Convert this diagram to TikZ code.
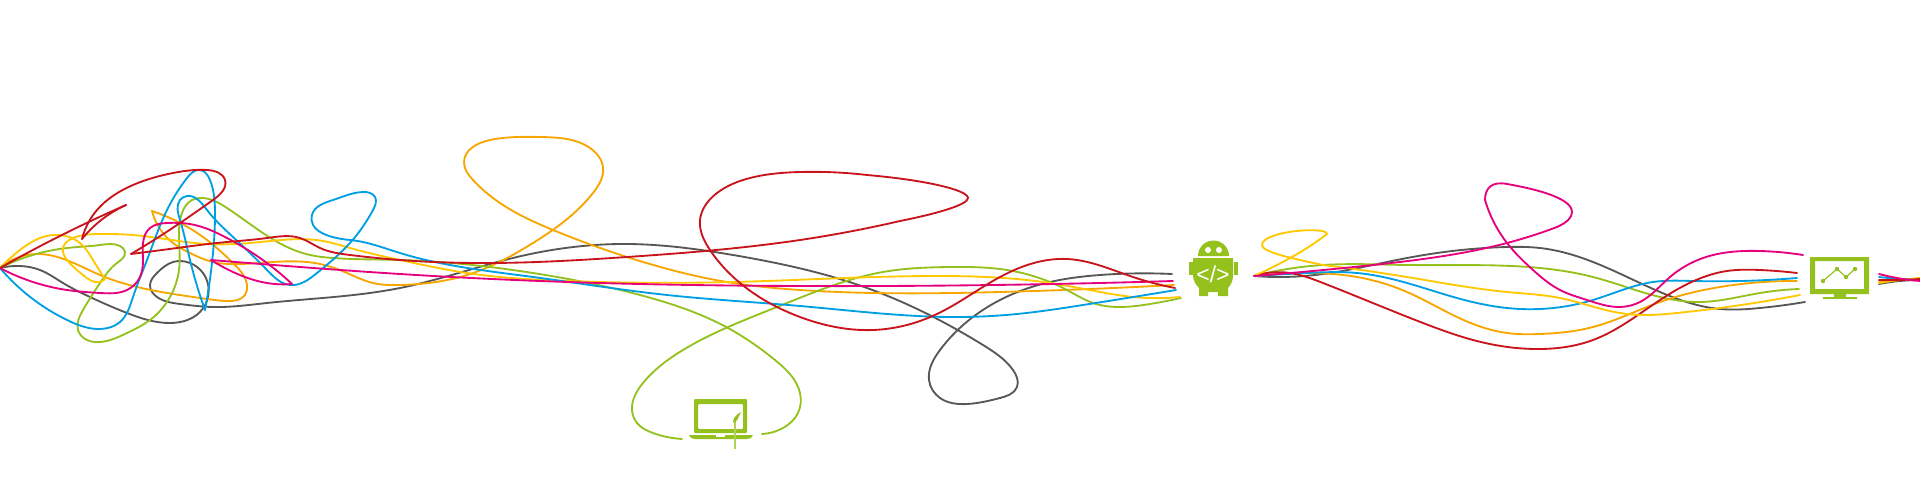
\documentclass[tikz,border=0pt]{standalone}
\usepackage{fontspec}
\usetikzlibrary{hobby}
\setsansfont{Liberation Sans}
\definecolor{wirered}{HTML}{C9141C}
\definecolor{wireyellow}{HTML}{FFC800}
\definecolor{wiregreen}{HTML}{95C11F}
\definecolor{wireorange}{HTML}{F7A600}
\definecolor{wiregray}{HTML}{575756}
\definecolor{wiremagenta}{HTML}{E6007E}
\definecolor{wireblue}{HTML}{009FE3}
\tikzset{
  wireline/.style={line width=1.85pt,line cap=round},
  wire/.style={wireline,use Hobby shortcut},
  icon/.style={fill=wiregreen,draw=none},
  hole/.style={fill=white,draw=none}
}
\begin{document}
\begin{tikzpicture}[x=1pt,y=-1pt]
  \useasboundingbox (0,0) rectangle (1920,495);
  \coordinate (start) at (0,268);
  \coordinate (devin) at (1254,276);
  % first stretch, from the left edge to the android
  \draw[wire,wiregray] (start) .. (20,266) .. (40,270) .. (63,283) .. (90,297) .. (127,313) .. (170,323) .. (200,312) .. (208,297) .. (203,273) .. (190,263) .. (173,262) .. (157,273) .. (150,285) .. (157,297) .. (180,304) .. (213,307) .. (267,303) .. (400,288) .. (517,257) .. (627,244) .. (733,255) .. (867,288) .. (983,345) .. (1013,370) .. (1017,387) .. (1000,398) .. (967,404) .. (940,398) .. (929,380) .. (940,350) .. (1000,300) .. (1050,282) .. (1100,275) .. (1172,274);
  \draw[wire,wireorange] (start) .. (37,254) .. (100,275) .. (200,298) .. (227,301) .. (245,295) .. (247,285) .. (233,263) .. (207,240) .. (152,211);
  \draw[wire,wireorange] (152,211) .. (173,243) .. (190,253) .. (213,262) .. (240,264) .. (320,264) .. (347,273) .. (373,283) .. (400,285) .. (467,275) .. (533,243) .. (593,193) .. (603,167) .. (590,148) .. (540,137) .. (490,140) .. (464,162) .. (473,180) .. (500,203) .. (553,230) .. (627,257) .. (733,283) .. (800,290) .. (1000,292) .. (1174,285);
  \draw[wire,wiregreen] (start) .. (67,248) .. (100,245) .. (120,246) .. (125,252) .. (117,263) .. (100,283) .. (83,310) .. (78,330) .. (87,340) .. (100,342) .. (127,333) .. (150,320) .. (170,297) .. (179,270) .. (179,237) .. (182,213) .. (192,200) .. (203,198) .. (227,208) .. (283,245) .. (310,255) .. (333,258) .. (400,260) .. (533,273) .. (640,295) .. (728,328) .. (775,360) .. (800,393) .. (798,413) .. (783,428) .. (762,434);
  \draw[wire,wiregreen] (682,439) .. (653,433) .. (637,423) .. (632,410) .. (643,383) .. (683,350) .. (777,307) .. (883,272) .. (950,267) .. (1007,270) .. (1067,290) .. (1093,303) .. (1120,307) .. (1150,304) .. (1181,298);
  \draw[wire,wireyellow] (start) .. (20,250) .. (40,238) .. (60,235) .. (80,243) .. (93,260) .. (105,279);
  \draw[wire,wireyellow] (105,279) .. (100,282) .. (83,275) .. (67,260) .. (63,248) .. (73,238) .. (100,234) .. (133,235) .. (207,244) .. (250,243) .. (323,241) .. (350,248) .. (400,260) .. (467,273) .. (567,281) .. (733,282) .. (933,276) .. (1050,283) .. (1100,292) .. (1133,297) .. (1180,297);
  \draw[wire,wireblue] (start) .. (67,320) .. (100,329) .. (120,322) .. (133,297) .. (147,260) .. (167,210) .. (187,178) .. (200,170) .. (210,180) .. (215,213) .. (213,253) .. (205,310);
  \draw[wire,wireblue] (205,310) .. (190,260) .. (180,220) .. (180,200) .. (187,196) .. (207,210) .. (233,237) .. (267,270) .. (290,285) .. (317,273) .. (350,243) .. (373,210) .. (375,197) .. (363,192) .. (333,200) .. (312,215) .. (350,240) .. (400,253) .. (533,277) .. (667,295) .. (800,306) .. (950,317) .. (1017,314) .. (1083,305) .. (1176,290);
  \draw[wire,wiremagenta] (start) .. (33,282) .. (67,290) .. (100,293) .. (127,290) .. (140,277) .. (143,260) .. (143,243) .. (150,228) .. (167,223) .. (190,224) .. (227,238) .. (260,258) .. (292,284);
  \draw[wire,wiremagenta] (292,284) .. (267,283) .. (233,272) .. (211,260);
  \draw[wire,wiremagenta] (211,260) .. (300,267) .. (400,274) .. (600,283) .. (800,286) .. (1173,281);
  \draw[wire,wirered] (start) .. (70,231) .. (126,205);
  \draw[wire,wirered] (126,205) .. (100,221) .. (82,239);
  \draw[wire,wirered] (82,239) .. (97,210) .. (133,185) .. (173,173) .. (207,170) .. (225,180) .. (213,200) .. (180,223) .. (131,254);
  \draw[wire,wirered] (131,254) .. (177,248) .. (217,243) .. (267,238) .. (300,238) .. (320,248) .. (350,255) .. (400,260) .. (493,263) .. (627,257) .. (800,240) .. (900,221);
  \draw[wireline,wirered] (900,221) .. controls (935,214) and (968,205) .. (968,198) .. controls (968,190) and (925,180) .. (867,175);
  \draw[wire,wirered] (867,175) .. (800,172) .. (750,178) .. (717,193) .. (700,220) .. (710,250) .. (740,283) .. (800,317) .. (873,330) .. (937,314) .. (1000,277) .. (1067,259) .. (1133,277) .. (1175,288);
  % second stretch, from the android to the monitor
  \draw[wire,wiregray] (devin) .. (1283,277) .. (1323,274) .. (1407,258) .. (1507,247) .. (1540,248) .. (1593,262) .. (1660,292) .. (1720,309) .. (1760,308) .. (1805,302);
  \draw[wire,wiregreen] (devin) .. (1323,265) .. (1407,265) .. (1540,268) .. (1593,277) .. (1660,297) .. (1700,302) .. (1760,293) .. (1799,289);
  \draw[wire,wireorange] (devin) .. (1307,273) .. (1357,277) .. (1407,292) .. (1457,317) .. (1507,333) .. (1540,334) .. (1593,327) .. (1660,302) .. (1720,287) .. (1797,281);
  \draw[wire,wireblue] (devin) .. (1307,273) .. (1357,273) .. (1407,283) .. (1457,298) .. (1507,308) .. (1540,309) .. (1593,300) .. (1653,282) .. (1693,281) .. (1797,278);
  \draw[wire,wirered] (devin) .. (1290,273) .. (1323,283) .. (1423,323) .. (1473,340) .. (1540,349) .. (1593,340) .. (1660,300) .. (1727,271) .. (1760,270) .. (1797,273);
  \draw[wire,wireyellow] (devin) .. (1273,267) .. (1307,248) .. (1327,234);
  \draw[wireline,wireyellow] (1327,234) .. controls (1327,226) and (1262,231) .. (1262,245) .. controls (1262,252) and (1290,258) .. (1323,265);
  \draw[wire,wireyellow] (1323,265) .. (1407,277) .. (1507,292) .. (1560,298) .. (1620,313) .. (1643,315) .. (1677,313) .. (1800,295);
  \draw[wire,wiremagenta] (devin) .. (1373,265) .. (1507,243) .. (1557,227);
  \draw[wireline,wiremagenta] (1557,227) .. controls (1568,222) and (1572,217) .. (1572,212) .. controls (1572,197) and (1530,188) .. (1507,184) .. controls (1492,181) and (1485,188) .. (1485,200);
  \draw[wire,wiremagenta] (1485,200) .. (1507,243) .. (1533,270) .. (1560,290) .. (1587,300) .. (1620,307) .. (1640,302) .. (1670,277) .. (1703,258) .. (1760,251) .. (1803,255);
  % last stretch, behind the monitor
  \draw[wire,wiregray] (1879,284) .. (1900,281) .. (1920,280);
  \draw[wire,wireorange] (1879,281) .. (1900,280) .. (1920,279);
  \draw[wire,wireyellow] (1879,283) .. (1900,280) .. (1920,278);
  \draw[wire,wireblue] (1879,277) .. (1900,279) .. (1920,280);
  \draw[wire,wirered] (1879,280) .. (1900,280) .. (1920,279);
  \draw[wire,wiremagenta] (1879,274) .. (1897,278) .. (1920,281);
  % laptop
  \draw[icon,rounded corners=1pt,even odd rule] (694,399) rectangle (747,433) (698,404) rectangle (743,429);
  \fill[icon] (689,435) -- (753,435) .. controls (752,438) and (750,439) .. (747,439) -- (695,439) .. controls (692,439) and (690,438) .. (689,435) -- cycle;
  \fill[hole] (716,435) rectangle (725,437);
  \draw[wiregreen!75,line width=1.2pt] (735,420) -- (735,449);
  \fill[icon] (741,412) .. controls (738,418) and (737,422) .. (733.5,423) .. controls (732,420) and (735,415) .. (741,412) -- cycle;
  % android
  \fill[icon] (1198,256) arc[start angle=180,end angle=360,radius=15.5] -- cycle;
  \fill[hole] (1208,250) circle[radius=3];
  \fill[hole] (1219,250) circle[radius=3];
  \fill[icon] (1193,258) -- (1233,258) -- (1233,275) .. controls (1233,281) and (1231,285) .. (1228,288) -- (1228,296) -- (1218,296) -- (1218,292) -- (1208,292) -- (1208,296) -- (1199,296) -- (1199,288) .. controls (1196,285) and (1193,281) .. (1193,275) -- cycle;
  \fill[icon] (1189,262) rectangle (1192.5,275);
  \fill[icon] (1234,262) rectangle (1238,275);
  \node[inner sep=0pt,text=white,font=\sffamily\fontsize{23}{23}\selectfont] (devcode) at (1213,274) {</>};
  % monitor
  \draw[icon,even odd rule] (1810,257) rectangle (1869,294) (1815,261) rectangle (1864,289);
  \fill[icon] (1834,294) rectangle (1846,297);
  \fill[icon] (1823,297) rectangle (1857,299);
  \draw[wiregreen,line width=1.2pt] (1823,281) -- (1837,269) -- (1846,277) -- (1855,269);
  \foreach \px/\py in {1823/281,1837/269,1846/277,1855/269}
    \fill[icon] (\px,\py) circle[radius=2.2];
\end{tikzpicture}
\end{document}
